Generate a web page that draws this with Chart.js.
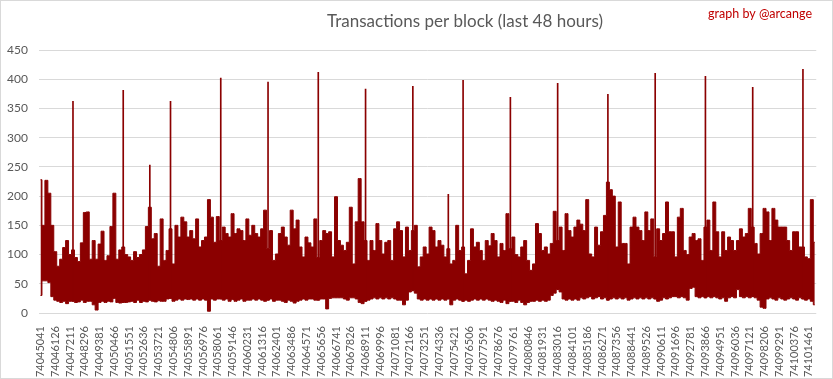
<!DOCTYPE html>
<html><head><meta charset="utf-8">
<script src="https://cdn.jsdelivr.net/npm/chart.js@4.4.1/dist/chart.umd.min.js"></script>
<style>html,body{margin:0;padding:0;background:#fff;}#wrap{width:833px;height:379px;position:relative;}</style>
</head><body><div id="wrap"><canvas id="c" width="833" height="379"></canvas></div>
<script>
const chartTitle = 'Transactions per block (last 48 hours)';
const creditText = 'graph by @arcange';
const firstBlock = 74045041;
const blocksPerBin = 217;
const tickLabels = ['74045041','74046126','74047211','74048296','74049381','74050466','74051551','74052636','74053721','74054806','74055891','74056976','74058061','74059146','74060231','74061316','74062401','74063486','74064571','74065656','74066741','74067826','74068911','74069996','74071081','74072166','74073251','74074336','74075421','74076506','74077591','74078676','74079761','74080846','74081931','74083016','74084101','74085186','74086271','74087356','74088441','74089526','74090611','74091696','74092781','74093866','74094951','74096036','74097121','74098206','74099291','74100376','74101461'];
const binHigh = [228,150,227,205,150,105,80,92,112,124,100,108,95,88,120,172,173,92,124,92,118,140,90,98,148,205,92,108,113,100,
96,90,105,95,100,108,148,181,127,136,80,161,90,107,144,84,150,130,164,156,130,141,127,161,113,124,130,194,164,121,165,
124,147,136,130,170,136,144,141,124,161,133,150,136,130,144,176,110,141,90,101,136,147,130,116,176,144,159,113,96,130,120,
113,161,95,124,141,136,139,96,199,124,116,107,121,181,84,156,230,156,124,90,124,107,153,124,101,121,124,90,144,156,
141,96,147,107,141,150,79,96,113,101,147,141,113,124,116,96,110,84,90,150,107,113,67,90,144,113,121,107,90,124,115,
136,124,96,119,107,170,110,130,100,96,113,124,90,73,84,153,136,107,113,101,119,174,124,147,107,170,141,130,147,159,
152,141,194,101,96,147,116,139,167,224,211,200,113,190,119,119,84,147,164,147,141,124,173,141,161,96,144,124,136,190,
139,139,96,164,179,107,100,130,136,124,127,90,147,159,107,190,139,96,139,107,130,124,107,124,144,130,136,179,147,119,
101,136,179,173,124,179,159,147,147,147,124,107,139,139,113,113,96,93,194,121];
const binLow = [30,55,55,52,28,22,20,18,20,16,20,20,18,19,22,18,20,20,14,5,18,20,18,20,19,25,18,17,18,18,
19,20,18,22,18,20,19,22,20,19,21,20,20,24,25,20,22,24,22,24,23,24,22,24,22,24,22,3,24,22,24,
24,22,24,20,23,20,22,24,20,22,22,24,22,24,22,20,22,24,20,22,22,20,18,22,20,17,20,22,24,22,24,
24,22,22,24,24,7,25,26,26,26,26,24,22,26,26,24,18,16,20,22,24,26,24,26,24,26,24,26,24,22,
22,14,22,36,38,34,24,22,24,22,24,22,24,22,24,22,24,14,22,24,22,20,22,20,22,24,22,24,22,24,22,
20,22,20,18,22,16,20,20,18,22,18,14,18,20,20,22,20,22,20,22,30,34,40,36,24,22,24,22,24,22,
26,24,26,28,24,26,28,24,26,22,24,26,24,26,24,26,22,24,26,24,26,24,26,24,26,24,20,22,26,24,
26,28,28,26,28,26,22,42,44,28,26,28,26,28,26,28,26,24,26,20,26,28,26,40,28,26,28,26,28,26,
22,10,8,24,26,24,22,26,24,22,24,26,24,22,26,24,22,24,20,14];
const spikeBins = [11,28,37,44,61,77,94,110,126,138,143,159,175,192,208,225,241,258];
const spikeValues = [362,381,253,362,402,395,412,383,388,203,398,369,393,374,410,405,386,417];

const categories = binHigh.map((_, i) => String(firstBlock + i * blocksPerBin));
const spikeData = binHigh.map(() => null);
spikeBins.forEach((b, k) => { spikeData[b] = [binLow[b], spikeValues[k]]; });

const red = '#8b0000';

const framePlugin = {
  id: 'frame',
  afterDraw(chart) {
    const ctx = chart.ctx;
    ctx.save();
    ctx.strokeStyle = '#d9d9d9';
    ctx.lineWidth = 1;
    ctx.strokeRect(0.5, 0.5, 832, 378);
    ctx.fillStyle = '#595959';
    ctx.font = '17px Lato';
    ctx.textAlign = 'center';
    ctx.textBaseline = 'alphabetic';
    ctx.fillText(chartTitle, 465, 27);
    ctx.fillStyle = '#c00000';
    ctx.font = '12.5px Lato';
    ctx.textAlign = 'right';
    ctx.fillText(creditText, 812, 18);
    ctx.restore();
  }
};

new Chart(document.getElementById('c'), {
  type: 'bar',
  data: {
    labels: categories,
    datasets: [
      { type: 'line', label: 'Low', data: binLow, borderColor: red, borderWidth: 1,
        pointRadius: 0, stepped: 'middle', fill: false, order: 2 },
      { type: 'line', label: 'Transactions', data: binHigh, borderColor: red, backgroundColor: red,
        borderWidth: 1, pointRadius: 0, stepped: 'middle', fill: '-1', order: 1 },
      { type: 'bar', label: 'Peaks', data: spikeData, backgroundColor: red, borderWidth: 0,
        barThickness: 1, grouped: false, order: 0 }
    ]
  },
  options: {
    responsive: false,
    animation: false,
    layout: { padding: { top: 50, right: 15, left: 0, bottom: 0 } },
    plugins: { legend: { display: false }, tooltip: { enabled: false }, title: { display: false } },
    scales: {
      x: {
        offset: true,
        grid: { display: false }, border: { display: false },
        ticks: {
          autoSkip: false, minRotation: 90, maxRotation: 90, padding: 5,
          color: '#595959', font: { family: 'Lato', size: 11 },
          callback: (v, i) => (i % 5 === 0 ? tickLabels[i / 5] : '')
        },
        afterFit: s => { s.height = 66; }
      },
      y: {
        min: 0, max: 450,
        ticks: { stepSize: 50, color: '#595959', font: { family: 'Lato', size: 12 }, padding: 11 },
        grid: { color: '#d9d9d9', drawTicks: false },
        border: { display: false },
        afterFit: s => { s.width = 39; }
      }
    }
  },
  plugins: [framePlugin]
});
</script>
</body></html>
